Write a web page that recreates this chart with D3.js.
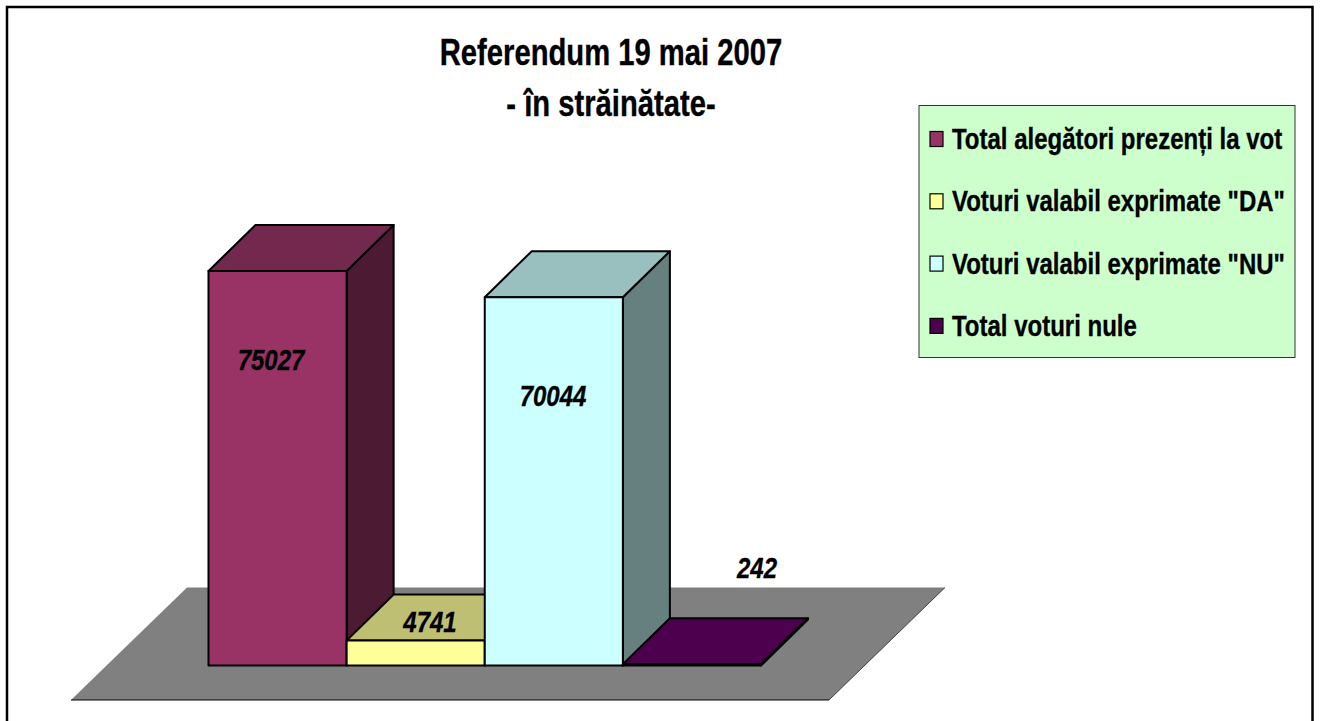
<!DOCTYPE html>
<html>
<head>
<meta charset="utf-8">
<script src="https://cdn.jsdelivr.net/npm/d3@7"></script>
<style>
    html, body { margin: 0; padding: 0; background: #fff; overflow: hidden; }
    text { font-family: "Liberation Sans", Arial, sans-serif; font-weight: bold; fill: #000; stroke: #000; stroke-width: 0.35px; }
</style>
</head>
<body>
<div id="chart"></div>
<script>
const categories = ['Total alegători prezenți la vot', 'Voturi valabil exprimate "DA"', 'Voturi valabil exprimate "NU"', 'Total voturi nule'];
const values = [75027, 4741, 70044, 242];
const colors = ['#993366', '#ffff99', '#ccffff', '#4d004d'];
const topColors = ['#73284d', '#bfbf73', '#99bfbf', '#4d004d'];
const sideColors = ['#4d1a33', '#80804d', '#668080', '#260026'];
const titleLines = ['Referendum 19 mai 2007', '- în străinătate-'];

const width = 1321;
const height = 721;
const narrow = 0.8; // reference text is squeezed horizontally

const svg = d3.select('#chart').append('svg')
    .attr('width', width)
    .attr('height', height);

// outer frame, open at the bottom
svg.append('path')
    .attr('d', 'M7,721V7H1312.5V721')
    .attr('fill', 'none')
    .attr('stroke', '#000')
    .attr('stroke-width', 2.5);

const x = d3.scaleBand().domain(categories).range([208.5, 761]);
const y = d3.scaleLinear().domain([0, 75027]).range([665.5, 271]);
const depthX = 47;
const depthY = 46;

// floor
svg.append('polygon')
    .attr('points', [[71, 700], [829, 700], [945, 587.5], [187, 587.5]].join(' '))
    .attr('fill', '#808080');
svg.append('line')
    .attr('x1', 71).attr('x2', 829).attr('y1', 700).attr('y2', 700)
    .attr('stroke', '#000').attr('stroke-width', 1.2);
svg.append('line')
    .attr('x1', 829).attr('x2', 945).attr('y1', 700).attr('y2', 587.5)
    .attr('stroke', '#222').attr('stroke-width', 0.8);

function addFace(points, fill) {
    svg.append('polygon')
        .attr('points', points.join(' '))
        .attr('fill', fill)
        .attr('stroke', '#000')
        .attr('stroke-width', 2)
        .attr('stroke-linejoin', 'round');
}

// left to right: each bar's top covers the foot of the previous side face
categories.forEach((c, i) => {
    const x0 = x(c);
    const x1 = x0 + x.bandwidth();
    const yTop = y(values[i]);
    const yBase = y(0);
    addFace([[x1, yBase], [x1 + depthX, yBase - depthY], [x1 + depthX, yTop - depthY], [x1, yTop]], sideColors[i]);
    addFace([[x0, yTop], [x1, yTop], [x1 + depthX, yTop - depthY], [x0 + depthX, yTop - depthY]], topColors[i]);
    addFace([[x0, yBase], [x1, yBase], [x1, yTop], [x0, yTop]], colors[i]);
});

function addText(str, px, py, size, anchor, italic) {
    svg.append('text')
        .attr('x', px)
        .attr('y', py)
        .attr('text-anchor', anchor)
        .attr('font-size', size)
        .attr('font-style', italic ? 'italic' : 'normal')
        .attr('transform', `translate(${px},0) scale(${narrow},1) translate(${-px},0)`)
        .text(str);
}

// value labels
const labelPos = [[271, 370], [430, 632], [553, 406], [757, 578]];
values.forEach((v, i) => addText(v, labelPos[i][0], labelPos[i][1], 30, 'middle', true));

// title
titleLines.forEach((t, i) => addText(t, 611, 65 + i * 51, 36.5, 'middle', false));

// legend
svg.append('rect')
    .attr('x', 919).attr('y', 105.5)
    .attr('width', 376).attr('height', 252)
    .attr('fill', '#ccffcc')
    .attr('stroke', '#333')
    .attr('stroke-width', 1);

categories.forEach((c, i) => {
    const cy = 139 + i * 62.3;
    svg.append('rect')
        .attr('x', 930).attr('y', cy - 7.5)
        .attr('width', 13).attr('height', 15)
        .attr('fill', colors[i])
        .attr('stroke', '#000')
        .attr('stroke-width', 1.2);
    addText(c, 952, cy + 10, 30, 'start', false);
});
</script>
</body>
</html>
